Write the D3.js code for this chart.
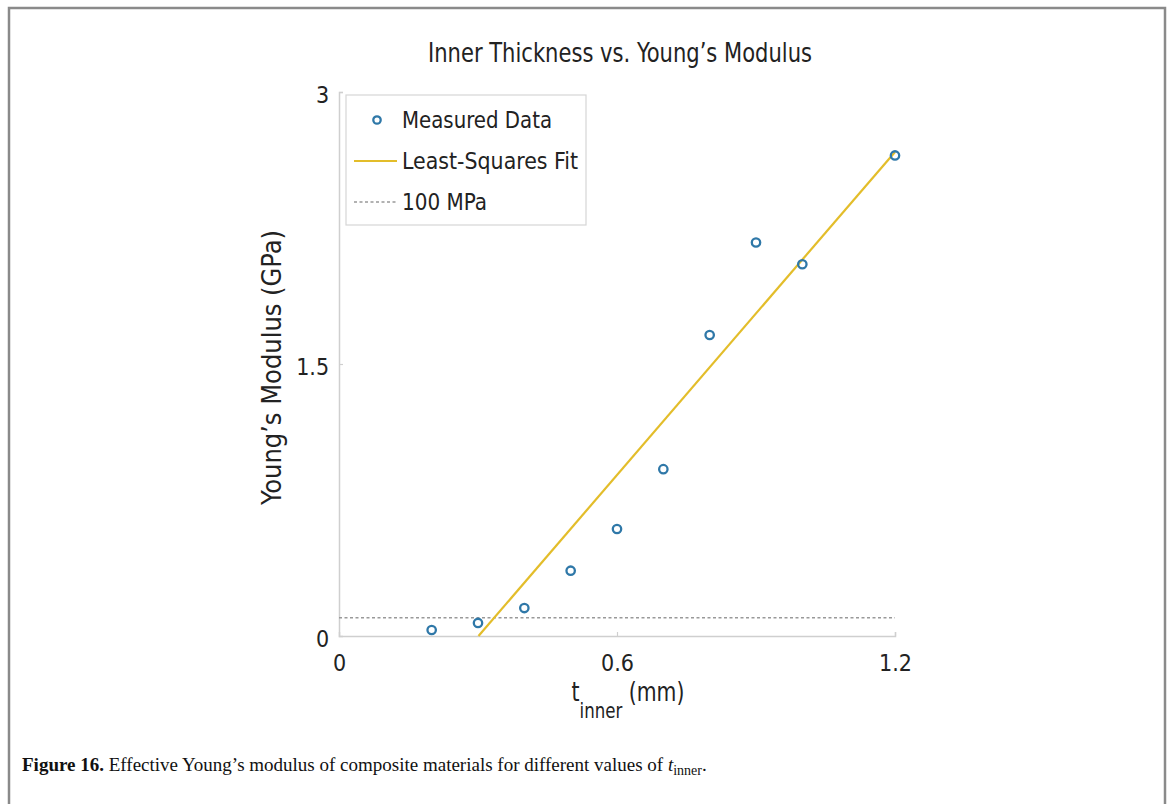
<!DOCTYPE html>
<html>
<head>
<meta charset="utf-8">
<script src="https://cdn.jsdelivr.net/npm/d3@7"></script>
<style>
  html, body { margin: 0; padding: 0; background: #fff; }
  svg { display: block; }
  .cond { font-family: "Liberation Sans Narrow", "DejaVu Sans Condensed", "Roboto", sans-serif; fill: #222; }
  .cap { font-family: "Liberation Serif", "DejaVu Serif", serif; fill: #111; }
</style>
</head>
<body>
<svg id="chart" width="1171" height="804"></svg>
<script>
// Measured effective modulus against inner layer thickness
const thickness = [0.2, 0.3, 0.4, 0.5, 0.6, 0.7, 0.8, 0.9, 1.0, 1.2];       // mm
const modulus   = [0.033, 0.072, 0.154, 0.36, 0.59, 0.92, 1.66, 2.17, 2.05, 2.65]; // GPa
const threshold = [0.1];                 // 100 MPa reference, GPa
const xTicks = [0, 0.6, 1.2];
const yTicks = [0, 1.5, 3];
const legendLabels = ["Measured Data", "Least-Squares Fit", "100 MPa"];

const svg = d3.select("#chart");
const W = 1171, H = 804;

// Figure frame
svg.append("path")
  .attr("d", `M9,${H + 2} V8 H1165 V${H + 2}`)
  .attr("fill", "none").attr("stroke", "#8a8a8a").attr("stroke-width", 2.5);

const x = d3.scaleLinear().domain([0, 1.2]).range([339, 895]);
const y = d3.scaleLinear().domain([0, 3]).range([636, 92]);

// Least-squares line through the measurements
const mx = d3.mean(thickness), my = d3.mean(modulus);
const sxy = d3.sum(thickness, (t, i) => (t - mx) * (modulus[i] - my));
const sxx = d3.sum(thickness, t => (t - mx) * (t - mx));
const slope = sxy / sxx, intercept = my - slope * mx;
const fitStart = -intercept / slope;     // where the fit crosses 0 GPa
const fitPts = [fitStart, 1.2].map(t => [t, slope * t + intercept]);

// Axes
const axisColor = "#cfcfcf";
const gx = svg.append("g").attr("transform", `translate(0,${y(0)})`)
  .call(d3.axisBottom(x).tickValues(xTicks).tickSize(-4).tickFormat(d3.format("")));
const gy = svg.append("g").attr("transform", `translate(${x(0)},0)`)
  .call(d3.axisLeft(y).tickValues(yTicks).tickSize(-4).tickFormat(d3.format("")));
[gx, gy].forEach(g => {
  g.select(".domain").attr("stroke", axisColor).attr("stroke-width", 1.5);
  g.selectAll(".tick line").attr("stroke", axisColor).attr("stroke-width", 1.2);
  g.selectAll(".tick text").attr("class", "cond").attr("font-size", 23).attr("fill", "#222");
});
gx.selectAll(".tick text").attr("dy", "1.4em");
gy.selectAll(".tick text").attr("dx", "-0.3em").attr("dy", "0.45em");
gx.selectAll(".tick").filter(d => d === 0).select("line").remove();
gy.selectAll(".tick").filter(d => d === 0).select("line").remove();

// 100 MPa reference line
svg.append("g").selectAll("line").data(threshold).join("line")
  .attr("x1", x(0)).attr("x2", x(1.2))
  .attr("y1", d => y(d)).attr("y2", d => y(d))
  .attr("stroke", "#999").attr("stroke-width", 1.5)
  .attr("stroke-dasharray", "3,2.5");

// Fit line
svg.append("path").datum(fitPts)
  .attr("d", d3.line().x(d => x(d[0])).y(d => y(d[1])))
  .attr("fill", "none").attr("stroke", "#e3bd2a").attr("stroke-width", 2.2);

// Measured points
svg.append("g").selectAll("circle").data(thickness).join("circle")
  .attr("cx", d => x(d)).attr("cy", (d, i) => y(modulus[i]))
  .attr("r", 4.2).attr("fill", "none").attr("stroke", "#2f78a8").attr("stroke-width", 2.3);

// Title
svg.append("text").attr("class", "cond")
  .attr("x", 428).attr("y", 62)
  .attr("font-size", 27).attr("textLength", 384).attr("lengthAdjust", "spacingAndGlyphs")
  .text("Inner Thickness vs. Young\u2019s Modulus");

// Axis titles
svg.append("text").attr("class", "cond")
  .attr("transform", `translate(281,505) rotate(-90)`)
  .attr("font-size", 27).attr("textLength", 275).attr("lengthAdjust", "spacingAndGlyphs")
  .text("Young\u2019s Modulus (GPa)");

const xt = svg.append("text").attr("class", "cond")
  .attr("transform", "translate(628,701) scale(0.84,1)")
  .attr("text-anchor", "middle").attr("font-size", 27);
xt.append("tspan").text("t");
xt.append("tspan").attr("dy", 17).attr("font-size", 22).text("inner");
xt.append("tspan").attr("dy", -17).text(" (mm)");

// Legend
const lg = svg.append("g");
lg.append("rect").attr("x", 346).attr("y", 95).attr("width", 240).attr("height", 130)
  .attr("fill", "#fff").attr("stroke", "#d6d6d6").attr("stroke-width", 1.2);
const rowY = [120, 161, 202];
lg.append("circle").attr("cx", 377).attr("cy", rowY[0]).attr("r", 3.7)
  .attr("fill", "none").attr("stroke", "#2f78a8").attr("stroke-width", 2.3);
lg.append("line").attr("x1", 354).attr("x2", 397).attr("y1", rowY[1]).attr("y2", rowY[1])
  .attr("stroke", "#e3bd2a").attr("stroke-width", 2.2);
lg.append("line").attr("x1", 354).attr("x2", 397).attr("y1", rowY[2]).attr("y2", rowY[2])
  .attr("stroke", "#999").attr("stroke-width", 1.5).attr("stroke-dasharray", "3,2.5");
const legendWidths = [150, 176, 85];
lg.selectAll("text.lab").data(legendLabels).join("text")
  .attr("class", "cond lab").attr("x", 402).attr("y", (d, i) => rowY[i] + 8)
  .attr("font-size", 23)
  .attr("textLength", (d, i) => legendWidths[i]).attr("lengthAdjust", "spacingAndGlyphs")
  .text(d => d);

// Caption
const cap = svg.append("text").attr("class", "cap").attr("x", 22).attr("y", 771).attr("font-size", 19);
cap.append("tspan").attr("font-weight", "bold").text("Figure 16.");
cap.append("tspan").text(" Effective Young\u2019s modulus of composite materials for different values of ");
cap.append("tspan").attr("font-style", "italic").text("t");
cap.append("tspan").attr("dy", 4).attr("font-size", 14).text("inner");
cap.append("tspan").attr("dy", -4).text(".");
</script>
</body>
</html>
